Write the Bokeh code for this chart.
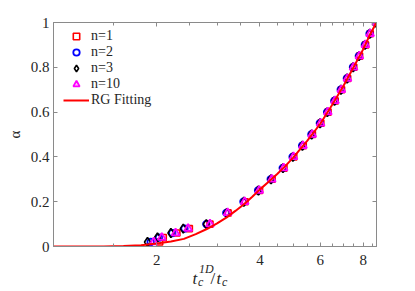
from bokeh.plotting import figure
from bokeh.models import Range1d, FixedTicker, LinearAxis, LogAxis, Legend, LegendItem, Label
from bokeh.embed import file_html
from bokeh.resources import INLINE

# ---- data ----
alpha_levels = [0.02, 0.04, 0.06, 0.08, 0.10, 0.15, 0.20, 0.25, 0.30, 0.35, 0.40, 0.45,
                0.50, 0.55, 0.60, 0.65, 0.70, 0.75, 0.80, 0.85, 0.90, 0.95, 1.00]
x_n1 = [2.04, 2.09, 2.29, 2.49, 2.86, 3.23, 3.62, 3.99, 4.34, 4.70, 5.02, 5.35,
        5.69, 6.02, 6.32, 6.63, 6.92, 7.21, 7.51, 7.81, 8.13, 8.39, 8.74]
x_n2 = [1.92, 2.03, 2.22, 2.41, 2.79, 3.19, 3.58, 3.95, 4.30, 4.66, 4.98, 5.31,
        5.65, 5.98, 6.28, 6.59, 6.88, 7.17, 7.47, 7.77, 8.09, 8.35, 8.71]
x_n3 = [1.88, 2.01, 2.20, 2.39, 2.79, 3.20, 3.59, 3.96, 4.31, 4.67, 4.99, 5.32,
        5.66, 5.99, 6.29, 6.60, 6.89, 7.18, 7.48, 7.78, 8.10, 8.36, 8.71]
x_n10 = [1.96, 2.07, 2.27, 2.47, 2.86, 3.22, 3.61, 3.98, 4.33, 4.69, 5.01, 5.34,
         5.68, 6.01, 6.31, 6.62, 6.91, 7.20, 7.50, 7.80, 8.12, 8.38, 8.73]

fit_x = [1.0, 1.4, 1.6, 1.8, 2.0, 2.2, 2.4, 2.6, 2.8, 3.0, 3.2, 3.4, 3.6, 3.8, 4.0,
         4.25, 4.5, 4.75, 5.0, 5.5, 6.0, 6.5, 7.0, 7.5, 8.0, 8.4, 8.75]
fit_alpha = [0.0, 0.0, 0.002, 0.006, 0.013, 0.022, 0.034, 0.055, 0.078, 0.103, 0.13,
             0.16, 0.19, 0.222, 0.255, 0.29, 0.325, 0.36, 0.397, 0.473, 0.548, 0.633,
             0.715, 0.80, 0.88, 0.95, 1.0]

x_major_ticks = [2, 4, 6, 8]
x_minor_ticks = [1.5, 2.5, 3, 3.5, 4.5, 5, 5.5, 6.5, 7, 7.5, 8.5]
y_ticks = [0, 0.2, 0.4, 0.6, 0.8, 1]
y_tick_labels = ["0", "0.2", "0.4", "0.6", "0.8", "1"]

FONT = "Liberation Serif"
AX = "#8a8a8a"
TXT = "#262626"

p = figure(width=415, height=291, x_axis_type="log",
           x_range=Range1d(1.0, 8.75), y_range=Range1d(0, 1),
           output_backend="svg", toolbar_location=None,
           min_border_left=53, min_border_right=39, min_border_top=22, min_border_bottom=45)
p.grid.visible = False
p.outline_line_color = AX
p.background_fill_color = "white"
p.border_fill_color = "white"

def style_axis(ax, labels=True):
    ax.axis_line_color = AX
    ax.major_tick_line_color = AX
    ax.minor_tick_line_color = AX
    ax.major_tick_in = 4
    ax.major_tick_out = 0
    ax.minor_tick_in = 3
    ax.minor_tick_out = 0
    ax.major_label_text_font = FONT
    ax.major_label_text_font_size = "15px"
    ax.major_label_text_color = TXT
    if not labels:
        ax.major_label_text_alpha = 0
        ax.major_label_text_font_size = "1px"

xt = FixedTicker(ticks=x_major_ticks, minor_ticks=x_minor_ticks)
yt = FixedTicker(ticks=y_ticks, minor_ticks=[])

xa = p.xaxis[0]
xa.ticker = xt
style_axis(xa)
xa.major_label_standoff = 8

ya = p.yaxis[0]
ya.ticker = yt
style_axis(ya)
ya.major_label_overrides = {t: s for t, s in zip(y_ticks, y_tick_labels)}
ya.major_label_standoff = 4
ya.axis_label = "α"
ya.axis_label_text_font = FONT
ya.axis_label_text_font_style = "normal"
ya.axis_label_text_font_size = "15px"
ya.axis_label_text_color = TXT
ya.axis_label_standoff = 5

top = LogAxis(ticker=xt)
style_axis(top, labels=False)
p.add_layout(top, "above")
right = LinearAxis(ticker=yt)
style_axis(right, labels=False)
p.add_layout(right, "right")

r1 = p.scatter(x_n1, alpha_levels, marker="square", size=6, line_color="#ff0000",
               fill_color=None, line_width=1.6)
r2 = p.scatter(x_n2, alpha_levels, marker="circle", size=6.5, line_color="#0000ff",
               fill_color=None, line_width=1.8)
r3 = p.scatter(x_n3, alpha_levels, marker="diamond", size=9, line_color="#000000",
               fill_color=None, line_width=1.6)
r4 = p.scatter(x_n10, alpha_levels, marker="triangle", size=8, line_color="#ff00ff",
               fill_color="#ff00ff", fill_alpha=0.25, line_width=1.8)
r5 = p.line(fit_x, fit_alpha, line_color="#ff0000", line_width=2)

legend = Legend(items=[LegendItem(label="n=1", renderers=[r1]),
                       LegendItem(label="n=2", renderers=[r2]),
                       LegendItem(label="n=3", renderers=[r3]),
                       LegendItem(label="n=10", renderers=[r4]),
                       LegendItem(label="RG Fitting", renderers=[r5])],
                location=(10, 138), padding=0, spacing=0, margin=0,
                glyph_width=26, glyph_height=16, label_height=16, label_standoff=2,
                label_text_font=FONT, label_text_font_size="14px", label_text_color=TXT,
                label_text_line_height=1.1,
                border_line_alpha=0, background_fill_alpha=0)
p.add_layout(legend)

# x axis label: t_c^{1D} / t_c  (canvas units, y measured from the top);
# spread over side panels so they are not clipped to the frame
def lab(x, y, t, size, side, style="italic"):
    p.add_layout(Label(x=x, y=y, x_units="canvas", y_units="canvas", text=t,
                       text_font=FONT, text_font_size=size,
                       text_font_style=style, text_color=TXT,
                       text_baseline="alphabetic", text_align="left"), side)

lab(192, 278, "t", "17px", "right")
lab(197.5, 281, "c", "12px", "below")
lab(198.5, 268, "1D", "12px", "above")
lab(210, 278, "/", "17px", "right", "normal")
lab(216, 278, "t", "17px", "right")
lab(221.5, 281, "c", "12px", "right")

open("out.html", "w").write(file_html(p, INLINE))
